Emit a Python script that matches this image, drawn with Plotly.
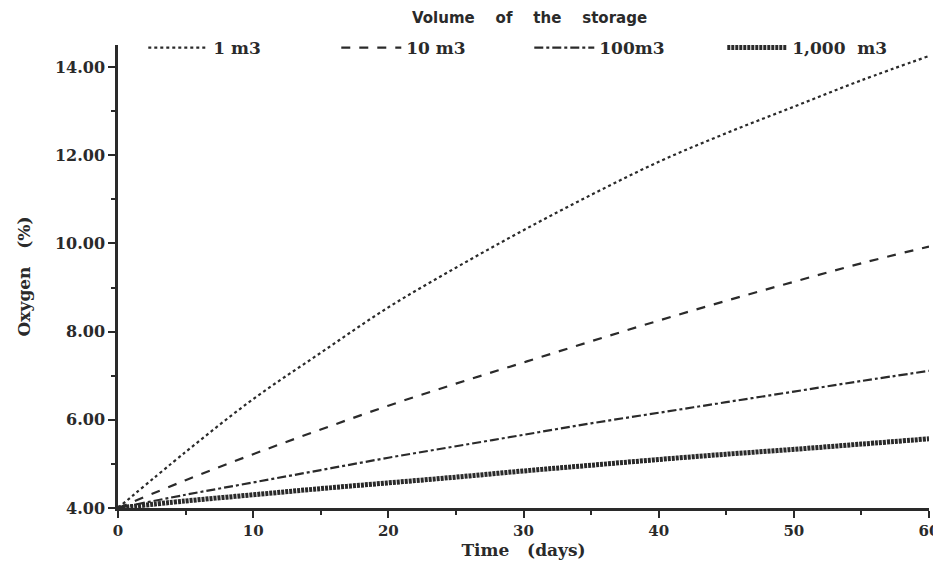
import plotly.graph_objects as go

days = [0, 5, 10, 15, 20, 25, 30, 35, 40, 45, 50, 55, 60]
oxygen_1m3 = [4.00, 5.27, 6.47, 7.52, 8.55, 9.45, 10.30, 11.10, 11.85, 12.50, 13.10, 13.70, 14.25]
oxygen_10m3 = [4.00, 4.63, 5.22, 5.78, 6.32, 6.82, 7.30, 7.78, 8.25, 8.70, 9.13, 9.55, 9.93]
oxygen_100m3 = [4.00, 4.30, 4.58, 4.86, 5.14, 5.40, 5.66, 5.92, 6.16, 6.40, 6.64, 6.88, 7.11]
oxygen_1000m3 = [4.00, 4.16, 4.30, 4.44, 4.57, 4.70, 4.84, 4.97, 5.10, 5.22, 5.33, 5.45, 5.57]
series_names = ["1\u00a0m3", "10\u00a0m3", "100m3", "1,000\u00a0\u00a0m3"]

ink = "#2a2a2a"
serif = "DejaVu Serif, Times New Roman, serif"
sans = "DejaVu Sans, Arial, sans-serif"
nb = "\u00a0"

# the page places the figure 8px from the top-left corner (default body margin)
W, H = 933, 552

fig = go.Figure()
styles = [
    (oxygen_1m3, dict(dash="dot", width=2.2)),
    (oxygen_10m3, dict(dash="dash", width=2.2)),
    (oxygen_100m3, dict(dash="dashdot", width=2.2)),
    (oxygen_1000m3, dict(dash="3px,1px", width=5)),
]
for name, (vals, st) in zip(series_names, styles):
    fig.add_trace(go.Scatter(
        x=days, y=vals, mode="lines", name=name,
        line=dict(color=ink, shape="spline", **st),
    ))

fig.update_layout(
    width=W, height=H,
    margin=dict(l=110, r=12, t=37, b=52, autoexpand=False),
    paper_bgcolor="white", plot_bgcolor="white",
    title=dict(
        text=(nb * 4).join(["Volume", "of", "the", "storage"]),
        xref="container", x=0.559, xanchor="center",
        yref="container", y=1 - 10 / H, yanchor="middle",
        font=dict(family=sans, size=15, color=ink, weight="bold"),
    ),
    legend=dict(
        orientation="h", xref="container", x=0.145, xanchor="left",
        yref="container", y=1 - 40 / H, yanchor="middle",
        entrywidth=118, entrywidthmode="pixels",
        font=dict(family=serif, size=17, color=ink, weight="bold"),
        bgcolor="rgba(0,0,0,0)", itemwidth=60,
    ),
    showlegend=True,
)

fig.update_xaxes(
    range=[0, 60], tickvals=[0, 10, 20, 30, 40, 50, 60],
    ticks="outside", ticklen=7, tickwidth=2, tickcolor=ink,
    minor=dict(dtick=5, tick0=0, ticks="outside", ticklen=4, tickwidth=1.5, tickcolor=ink),
    showline=True, linecolor=ink, linewidth=2.5,
    showgrid=False, zeroline=False,
    tickfont=dict(family=serif, size=15, color=ink, weight="bold"),
    title=dict(text="Time" + nb * 3 + "(days)", standoff=8,
               font=dict(family=serif, size=17, color=ink, weight="bold")),
)
fig.update_yaxes(
    range=[4, 14.5], tickvals=[4, 6, 8, 10, 12, 14], tickformat=".2f",
    ticks="outside", ticklen=7, tickwidth=2, tickcolor=ink,
    minor=dict(dtick=1, tick0=0, ticks="outside", ticklen=4, tickwidth=1.5, tickcolor=ink),
    showline=True, linecolor=ink, linewidth=2.5,
    showgrid=False, zeroline=False,
    tickfont=dict(family=serif, size=16, color=ink, weight="bold"),
    title=dict(text="Oxygen" + nb * 3 + "(%)", standoff=20,
               font=dict(family=serif, size=17, color=ink, weight="bold")),
)

fig.write_html("out.html")
